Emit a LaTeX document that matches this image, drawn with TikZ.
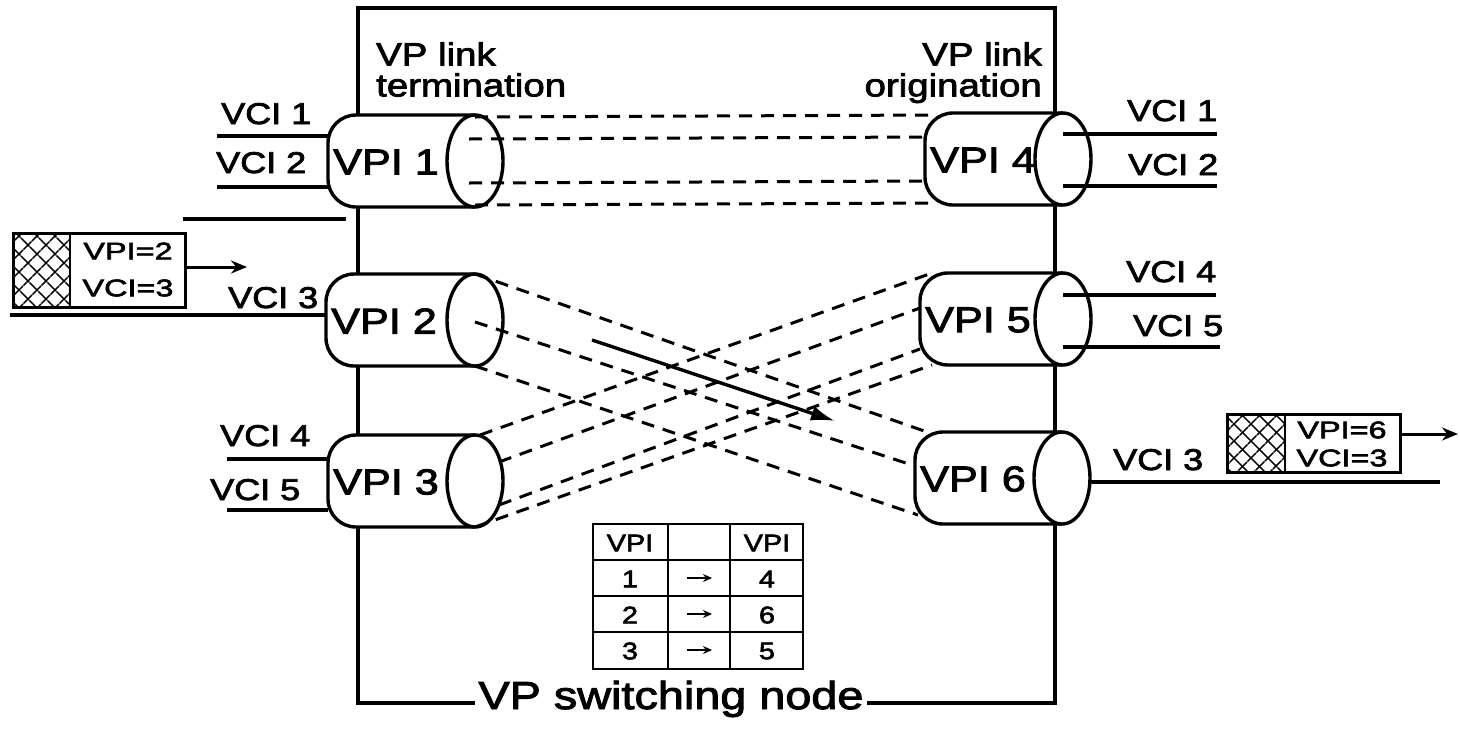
\documentclass[tikz,border=0pt]{standalone}
\usepackage{fontspec}
\setmainfont{Liberation Sans}[FakeStretch=1.2,FakeBold=2.5]
\newfontfamily\pktfont{Liberation Sans}[FakeStretch=1.35,FakeBold=2.5]
\usetikzlibrary{arrows.meta,patterns.meta,calc}

% cylinder: #1 name, #2 left x, #3 end-ellipse centre x, #4 centre y, #5 label
\newcommand\vpcyl[5]{%
  \path[cylbody] (#3,#4-46) [rounded corners=28pt] -- (#2,#4-46) -- (#2,#4+46) -- (#3,#4+46);
  \draw[cylbody] (#3,#4) ellipse [x radius=28pt, y radius=46pt];
  \coordinate (#1-e) at (#3,#4);
  \coordinate (#1-w) at (#2,#4);
  \node[vpi, anchor=west] (#1) at (#2+5,#4+1) {#5};
}

\begin{document}
\begin{tikzpicture}[x=1pt,y=-1pt,
  wire/.style={line width=3.4pt},
  conn/.style={line width=3pt, dash pattern=on 13pt off 9pt},
  cylbody/.style={line width=3.4pt, draw=black, fill=white},
  vpi/.style={font=\fontsize{36}{36}\selectfont, inner sep=0pt},
  vci/.style={font=\fontsize{30}{30}\selectfont, inner sep=0pt, anchor=base west},
  head/.style={font=\fontsize{32}{31}\selectfont, inner sep=0pt},
  pkt/.style={font=\pktfont\fontsize{24}{24}\selectfont, inner sep=0pt},
  tbl/.style={font=\fontsize{24}{24}\selectfont, inner sep=0pt},
  arr/.style={line width=3pt, -{Stealth[length=16pt,width=13pt]}},
  small arr/.style={line width=2.4pt, -{Stealth[length=9pt,width=8pt]}}]
\useasboundingbox (0,0) rectangle (1460,729);

% switching node frame
\draw[wire] (358,8) rectangle (1055,703);
\node[font=\fontsize{39}{39}\selectfont, fill=white, inner xsep=3pt, inner ysep=1pt, anchor=base] (swnode) at (671,709) {VP switching node};

% headings
\node[head, anchor=north west, align=left] (term) at (376,42) {VP link\\termination};
\node[head, anchor=north east, align=right] (orig) at (1042,42) {VP link\\origination};

% virtual paths
\vpcyl{v1}{328}{475}{161}{VPI 1}
\vpcyl{v2}{326}{475}{320}{VPI 2}
\vpcyl{v3}{328}{475}{481}{VPI 3}
\vpcyl{v4}{925}{1063}{159}{VPI 4}
\vpcyl{v5}{920}{1063}{319}{VPI 5}
\vpcyl{v6}{915}{1062}{478}{VPI 6}

% VPI 1 -> VPI 4
\draw[conn] ($(v1-e)+(0,-44)$) -- ($(v4-w)+(12,-44)$);
\draw[conn] ($(v1-e)+(-6,-22)$) -- ($(v4-w)+(2,-22)$);
\draw[conn] ($(v1-e)+(-6,22)$) -- ($(v4-w)+(2,22)$);
\draw[conn] ($(v1-e)+(0,44)$) -- ($(v4-w)+(12,44)$);
% VPI 2 -> VPI 6
\draw[conn] ($(v2-e)+(0,-46)$) -- ($(v6-w)+(12,-46)$);
\draw[conn] ($(v2-e)+(0,2)$) -- ($(v6-w)+(0,-12)$);
\draw[conn] ($(v2-e)+(0,46)$) -- ($(v6-w)+(3,37)$);
% VPI 3 -> VPI 5
\draw[conn] ($(v3-e)+(5,-46)$) -- ($(v5-w)+(12,-46)$);
\draw[conn] ($(v3-e)+(24,-19)$) -- ($(v5-w)+(0,-11)$);
\draw[conn] ($(v3-e)+(24,24)$) -- ($(v5-w)+(0,30)$);
\draw[conn] ($(v3-e)+(0,46)$) -- ($(v5-w)+(12,46)$);

% cell being switched
\coordinate (sw-from) at (592,340);
\coordinate (sw-to) at (835,421);
\draw[line width=3.4pt, -{Latex[length=24pt,width=15pt]}] (sw-from) -- (sw-to);

% channels on VPI 1
\coordinate (a1) at (217,136);
\coordinate (a2) at (217,187);
\draw[wire] (a1) -- (a1 -| v1-w);
\draw[wire] (a2) -- (a2 -| v1-w);
\node[vci] (l-a1) at (221,124) {VCI 1};
\node[vci] (l-a2) at (216,173) {VCI 2};
\coordinate (sep-a) at (183,219);
\coordinate (sep-b) at (346,219);
\draw[wire] (sep-a) -- (sep-b);

% channel on VPI 2
\coordinate (b1) at (10,315);
\draw[wire] (b1) -- (b1 -| v2-w);
\node[vci] (l-b1) at (228,308) {VCI 3};

% channels on VPI 3
\coordinate (c1) at (227,459);
\coordinate (c2) at (227,510);
\draw[wire] (c1) -- (c1 -| v3-w);
\draw[wire] (c2) -- (c2 -| v3-w);
\node[vci] (l-c1) at (220,446) {VCI 4};
\node[vci] (l-c2) at (210,500) {VCI 5};

% channels on VPI 4
\coordinate (d1) at (1217,134);
\coordinate (d2) at (1217,186);
\draw[wire] (d1 -| v4-e) -- (d1);
\draw[wire] (d2 -| v4-e) -- (d2);
\node[vci] (l-d1) at (1127,121) {VCI 1};
\node[vci] (l-d2) at (1128,175) {VCI 2};

% channels on VPI 5
\coordinate (e1) at (1216,295);
\coordinate (e2) at (1220,347);
\draw[wire] (e1 -| v5-e) -- (e1);
\draw[wire] (e2 -| v5-e) -- (e2);
\node[vci] (l-e1) at (1126,282) {VCI 4};
\node[vci] (l-e2) at (1133,336) {VCI 5};

% channel on VPI 6
\coordinate (f0) at (1090,482);
\coordinate (f1) at (1440,482);
\draw[wire] (f0) -- (f1);
\node[vci] (l-f1) at (1113,470) {VCI 3};

% incoming cell
\fill[pattern={Lines[angle=45,distance=13pt,line width=1.6pt]}] (13,233) rectangle (70,307);
\fill[pattern={Lines[angle=-45,distance=13pt,line width=1.6pt]}] (13,233) rectangle (70,307);
\node[draw, line width=3pt, minimum width=172pt, minimum height=74pt, inner sep=0pt] (pk1) at (99,270) {};
\draw[line width=2.6pt] (70,233) -- (70,307);
\node[pkt] (pk1-a) at (128,251) {VPI=2};
\node[pkt] (pk1-b) at (128,288) {VCI=3};
\coordinate (pk1-tip) at (247,267);
\draw[arr] (pk1-tip -| pk1.east) -- (pk1-tip);

% outgoing cell
\fill[pattern={Lines[angle=45,distance=13pt,line width=1.6pt]}] (1227,414) rectangle (1285,472);
\fill[pattern={Lines[angle=-45,distance=13pt,line width=1.6pt]}] (1227,414) rectangle (1285,472);
\node[draw, line width=3pt, minimum width=173pt, minimum height=58pt, inner sep=0pt] (pk2) at (1313.5,443) {};
\draw[line width=2.6pt] (1285,414) -- (1285,472);
\node[pkt] (pk2-a) at (1342,430) {VPI=6};
\node[pkt] (pk2-b) at (1342,458) {VCI=3};
\coordinate (pk2-tip) at (1458,434);
\draw[arr] (pk2-tip -| pk2.east) -- (pk2-tip);

% translation table
\draw[line width=2.8pt] (593,524) rectangle (803,669);
\draw[line width=2.8pt] (668,524) -- (668,669) (730,524) -- (730,669);
\draw[line width=2.8pt] (593,560) -- (803,560) (593,596) -- (803,596) (593,632) -- (803,632);
\node[tbl] (t-h1) at (630,543) {VPI};
\node[tbl] (t-h3) at (767,543) {VPI};
\node[tbl] (t-11) at (630,579) {1};
\node[tbl] (t-13) at (767,579) {4};
\node[tbl] (t-21) at (630,615) {2};
\node[tbl] (t-23) at (767,615) {6};
\node[tbl] (t-31) at (630,651) {3};
\node[tbl] (t-33) at (767,651) {5};
\coordinate (t-a1) at (687,578);
\coordinate (t-b1) at (712,578);
\coordinate (t-a2) at (687,614);
\coordinate (t-b2) at (712,614);
\coordinate (t-a3) at (687,650);
\coordinate (t-b3) at (712,650);
\draw[small arr] (t-a1) -- (t-b1);
\draw[small arr] (t-a2) -- (t-b2);
\draw[small arr] (t-a3) -- (t-b3);
\end{tikzpicture}
\end{document}
